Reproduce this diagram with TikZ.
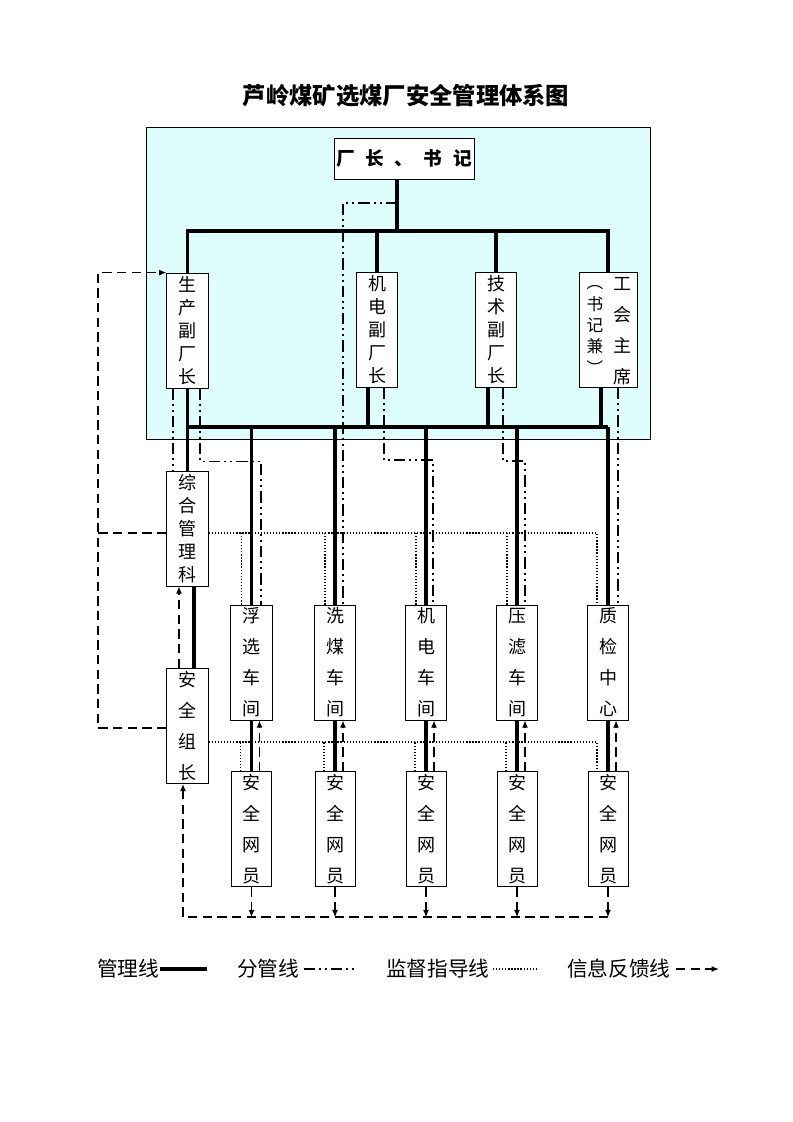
\documentclass[tikz,border=0pt]{standalone}
\usepackage{fontspec}
\setmainfont{Noto Sans CJK SC}
\usepackage{tikz}
\usetikzlibrary{arrows.meta, positioning, calc}
\usepackage{xcolor}
\definecolor{qianqing}{RGB}{222,253,253}

\begin{document}
\begin{tikzpicture}[
  x=0.75pt, y=-0.75pt,
  kuang/.style={rectangle, draw, fill=white, line width=0.6pt, minimum width=31pt, minimum height=86.25pt, inner sep=0pt, align=center},
  wuzi/.style={kuang, font=\fontsize{13.5}{17.25}\selectfont},
  sizi/.style={kuang, font=\fontsize{13.5}{23.25}\selectfont},
  guanli/.style={line width=2.4pt},
  fenguan/.style={line width=1.2pt, dash pattern=on 8.5pt off 3pt on 1.5pt off 3pt on 1.5pt off 3pt},
  jiandu/.style={line width=1.3pt, dash pattern=on 1pt off 1.3pt},
  fankui/.style={line width=0.9pt, dash pattern=on 7pt off 4pt, -{Latex[length=5.5pt,width=4.5pt]}},
  tuli/.style={font=\fontsize{15.5}{18}\selectfont, inner sep=0pt, anchor=west}
]
\useasboundingbox (0,0) rectangle (793,1122);

% Title and panel
\node[font=\fontsize{17.5}{20}\selectfont\bfseries] (biaoti) at (406,96) {芦岭煤矿选煤厂安全管理体系图};
\draw[line width=0.6pt, fill=qianqing] (146,127) rectangle (650,439);

% Nodes
\node[kuang, font=\fontsize{14}{16}\selectfont\bfseries, minimum width=105pt, minimum height=30.75pt] (chang) at (404,158.5) {厂\hspace{8pt}长\hspace{8pt}、\hspace{8pt}书\hspace{8pt}记};
\node[wuzi] (shengchan) at (187.5,330.5) {生\\产\\副\\厂\\长};
\node[wuzi] (jidian) at (377,330) {机\\电\\副\\厂\\长};
\node[wuzi] (jishu) at (496,330) {技\\术\\副\\厂\\长};
\node[kuang, minimum width=43.5pt] (gonghui) at (608,330) {};
\node[font=\fontsize{13.5}{23.25}\selectfont, align=center, inner sep=0pt] (gonghui1) at ($(gonghui.center)+(14,1)$) {工\\会\\主\\席};
\node[font=\fontsize{12.5}{16}\selectfont, align=center, inner sep=0pt] (gonghui2) at ($(gonghui.center)+(-13,0)$) {︵\\书\\记\\兼\\︶};
\node[wuzi] (zonghe) at (187.5,528.5) {综\\合\\管\\理\\科};
\node[sizi] (zuzhang) at (187.5,726) {安\\全\\组\\长};
\node[sizi] (fuxuan) at (251.5,662.5) {浮\\选\\车\\间};
\node[sizi] (ximei) at (335,662.5) {洗\\煤\\车\\间};
\node[sizi] (jdcj) at (426,662.5) {机\\电\\车\\间};
\node[sizi] (yalv) at (517,662.5) {压\\滤\\车\\间};
\node[sizi] (zhijian) at (608,662.5) {质\\检\\中\\心};
\node[sizi, minimum width=30pt, below=38.25pt of fuxuan] (wy1) {安\\全\\网\\员};
\node[sizi, minimum width=30pt, below=38.25pt of ximei] (wy2) {安\\全\\网\\员};
\node[sizi, minimum width=30pt, below=38.25pt of jdcj] (wy3) {安\\全\\网\\员};
\node[sizi, minimum width=30pt, below=38.25pt of yalv] (wy4) {安\\全\\网\\员};
\node[sizi, minimum width=30pt, below=38.25pt of zhijian] (wy5) {安\\全\\网\\员};
\coordinate (hub) at (397,231);
\coordinate (fen0) at (397,203);
\coordinate (busL) at (187,427);
\coordinate (busR) at (608,427);
\coordinate (fbx) at (98,533);
\coordinate (fbd) at (183,917);

% Connections
\draw[guanli] (chang.south -| hub) -- (hub);
\draw[guanli] (shengchan.north) |- (hub) -| (gonghui.north);
\draw[guanli] (hub) -| (jidian.north);
\draw[guanli] (hub) -| (jishu.north);
\draw[guanli] (shengchan.south) -- (zonghe.north);
\draw[guanli] (busL) -- (busR);
\draw[guanli] ($(jidian.south)+(-9,0)$) -- ++(0,40);
\draw[guanli] ($(jishu.south)+(-8,0)$) -- ++(0,40);
\draw[guanli] ($(gonghui.south)+(-7,0)$) -- ++(0,40);
\draw[guanli] ($(zonghe.south)+(6.5,0)$) -- ($(zuzhang.north)+(6.5,0)$);
\foreach \a/\b in {fuxuan/wy1, ximei/wy2, jdcj/wy3, yalv/wy4, zhijian/wy5} {
  \draw[guanli] (\a.north) -- (\a.north |- busL);
  \draw[guanli] (\a.south) -- (\b.north);
  \draw[fankui] ($(\b.north)+(8,0)$) -- ($(\a.south)+(8,0)$);
  \draw[fankui] (\b.south) -- ++(0,30);
}

\draw[fenguan] (fen0) -| ($(ximei.north)+(8,0)$);
\draw[fenguan] ($(shengchan.south)+(-14.5,0)$) -- ($(zonghe.north)+(-14.5,0)$);
\draw[fenguan] ($(shengchan.south)+(12.5,0)$) -- ++(0,73) -| ($(fuxuan.north)+(9.5,0)$);
\draw[fenguan] ($(jidian.south)+(7,0)$) -- ++(0,72) -| ($(jdcj.north)+(7,0)$);
\draw[fenguan] ($(jishu.south)+(7,0)$) -- ++(0,73) -| ($(yalv.north)+(8,0)$);
\draw[fenguan] ($(gonghui.south)+(10,0)$) -- ($(zhijian.north)+(10,0)$);

\draw[jiandu] ($(zonghe.east)+(0,4.5)$) -| ($(zhijian.north)+(-11,0)$);
\foreach \a in {fuxuan, ximei, jdcj, yalv}
  \draw[jiandu] ($(\a.north)+(-10,0)$) -- ++(0,-72);
\draw[jiandu] ($(zuzhang.east)+(0,16)$) -| ($(wy5.north)+(-11,0)$);
\foreach \b in {wy1, wy2, wy3, wy4}
  \draw[jiandu] ($(\b.north)+(-11,0)$) -- ++(0,-29);

\draw[fankui, -] ($(zonghe.west)+(0,4.5)$) -- (fbx);
\draw[fankui] ($(zuzhang.west)+(0,2)$) -| (fbx) |- (shengchan.north west);
\draw[fankui] ($(zuzhang.north)+(-8.5,0)$) -- ($(zonghe.south)+(-8.5,0)$);
\draw[fankui] (wy5.south |- fbd) -| ($(zuzhang.south)+(-4.5,0)$);

% Legend
\node[tuli] (tl1) at (97,969) {管理线};
\draw[guanli] (tl1.east) -- ++(47,0);
\node[tuli] (tl2) at (237,969) {分管线};
\draw[fenguan] ($(tl2.east)+(4,0)$) -- ++(51,0);
\node[tuli] (tl3) at (386,969) {监督指导线};
\draw[jiandu] ($(tl3.east)+(3,0)$) -- ++(44,0);
\node[tuli] (tl4) at (567,969) {信息反馈线};
\draw[fankui] ($(tl4.east)+(5,0)$) -- ++(43,0);

\end{tikzpicture}
\end{document}
